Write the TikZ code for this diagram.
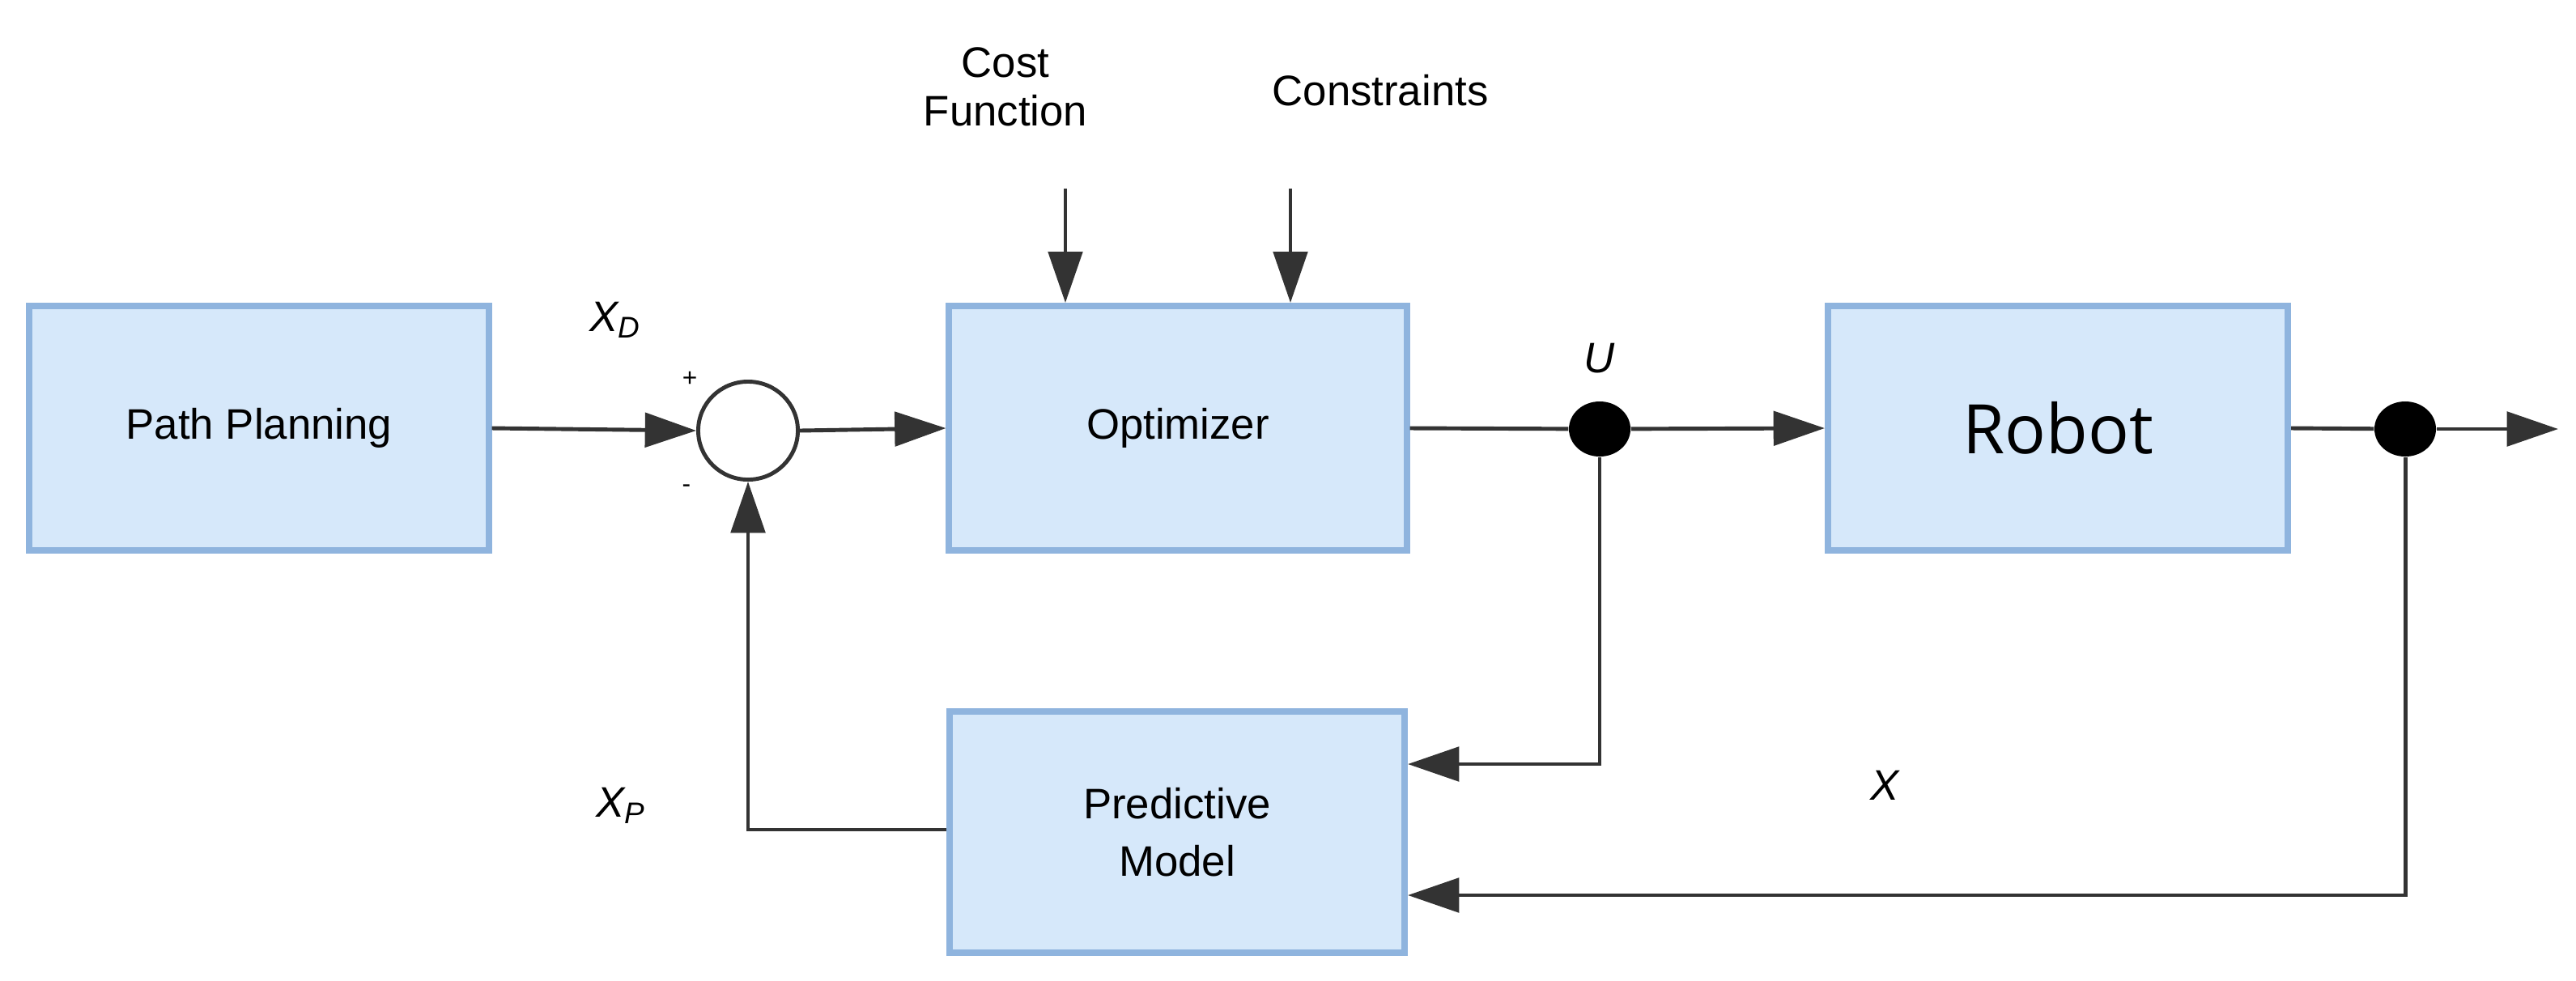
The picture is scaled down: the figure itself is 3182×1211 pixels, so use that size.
\documentclass[tikz,border=0pt]{standalone}
\usepackage{fontspec}
\setmainfont{Liberation Sans}
\newfontfamily\robotfont{Open Sans}
\usetikzlibrary{arrows.meta,shapes.geometric}
\definecolor{boxfill}{HTML}{D6E8FA}
\definecolor{boxline}{HTML}{8FB4DE}
\begin{document}
\begin{tikzpicture}[x=0.01cm,y=-0.01cm,
  blk/.style={draw=boxline,line width=2.2pt,fill=boxfill,inner sep=0pt,font=\fontsize{15}{18}\selectfont,align=center},
  con/.style={line width=1.4pt,draw=black!80},
  arr/.style={con,-{Triangle[length=18pt,width=12pt]}},
  lbl/.style={font=\fontsize{15}{18}\selectfont\itshape},
  dot/.style={ellipse,fill=black,minimum width=0.76cm,minimum height=0.68cm,inner sep=0pt}]
\useasboundingbox (0,0) rectangle (3182,1211);
\node[blk,minimum width=5.67cm,minimum height=3.02cm] (pp) at (320,529) {Path Planning};
\node[blk,minimum width=5.65cm,minimum height=3.02cm] (opt) at (1455,529) {Optimizer};
\node[blk,minimum width=5.68cm,minimum height=3.02cm,font=\robotfont\fontsize{24}{28}\selectfont] (rob) at (2542,529) {Robot};
\node[blk,minimum width=5.62cm,minimum height=2.98cm] (pm) at (1454,1028) {Predictive\\[2pt]Model};
\node[draw=black!80,line width=1.4pt,ellipse,minimum width=1.23cm,minimum height=1.21cm,inner sep=0pt] (sum) at (924,532) {};
\node[dot] (u) at (1976,530) {};
\node[dot] (y) at (2971,530) {};
\coordinate (out) at (3160,530);
\coordinate (cf) at (1316,233);
\coordinate (cs) at (1594,233);
\draw[arr] (pp.east) -- (sum.west);
\draw[arr] (sum.east) -- (opt.west);
\draw[con] (opt.east) -- (u);
\draw[arr] (u) -- (rob.west);
\draw[con] (rob.east) -- (y);
\draw[arr] (y) -- (out);
\draw[arr] (cf) -- (cf |- opt.north);
\draw[arr] (cs) -- (cs |- opt.north);
\draw[arr] (u) |- (pm.east |- 0,944);
\draw[arr] (y) |- (pm.east |- 0,1106);
\draw[arr] (pm.west |- 0,1025) -| (sum.south);
\node[font=\fontsize{15}{18}\selectfont,align=center] at (1242,107) {Cost\\[-1pt]Function};
\node[font=\fontsize{15}{18}\selectfont] at (1705,112) {Constraints};
\node[lbl] at (760,395) {X\textsubscript{D}};
\node[lbl] at (1976,443) {U};
\node[lbl] at (767,995) {X\textsubscript{P}};
\node[lbl] at (2328,970) {X};
\node[font=\fontsize{9}{10}\selectfont] at (852,468) {+};
\node[font=\fontsize{9}{10}\selectfont] at (848,604) {-};
\end{tikzpicture}
\end{document}
